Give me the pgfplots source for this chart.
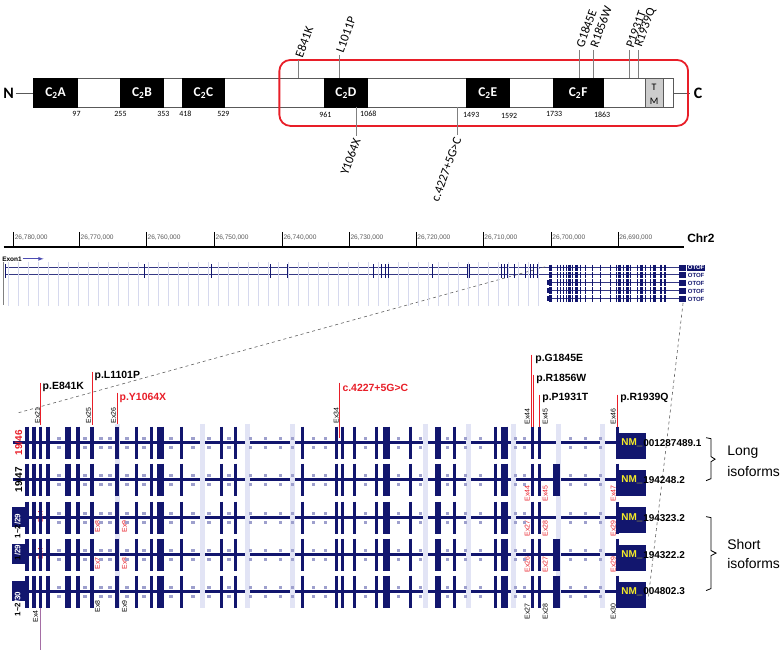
\documentclass[border=0pt]{standalone}
\usepackage{fontspec}
\setmainfont{Liberation Sans}
\newfontfamily\carl{Carlito}
\usepackage{pgfplots}
\usepackage{pgfplotstable}
\pgfplotsset{compat=1.18}
\definecolor{navy}{RGB}{18,22,110}
\definecolor{lav}{RGB}{226,228,245}
\definecolor{chev}{RGB}{158,160,205}
\definecolor{mred}{RGB}{232,30,40}
\definecolor{myel}{RGB}{245,235,40}
\definecolor{gline}{RGB}{214,217,238}
\definecolor{purp}{RGB}{165,110,165}
\newcommand\fs[1]{\fontsize{#1}{#1}\selectfont}
% exon tables (pixel positions)
\pgfplotstableread[row sep=\\]{x y\\26.5 0\\33.5 0\\40 0\\47.5 0\\77.5 0\\91.5 0\\116.5 0\\136 0\\151 0\\181 0\\221 0\\235 0\\302.5 0\\336 0\\342.5 0\\354.5 0\\376.5 0\\410 0\\454.5 0\\495 0\\532 0\\539.5 0\\617.5 0\\}\exN
\pgfplotstableread[row sep=\\]{x y\\67.5 0\\160 0\\386 0\\437.5 0\\504.5 0\\}\exW
\pgfplotstableread[row sep=\\]{x y\\556.5 0\\}\exX
\pgfplotstableread[row sep=\\]{x y\\549.5 0\\}\gStart
\pgfplotstableread[row sep=\\]{x y\\58 0\\84 0\\100 0\\109 0\\126 0\\143 0\\170 0\\192 0\\208 0\\228 0\\250 0\\265 0\\280 0\\292 0\\313 0\\325 0\\365 0\\398 0\\420 0\\447 0\\465 0\\480 0\\515 0\\524 0\\570 0\\585 0\\600 0\\}\chevs
\pgfplotstableread[row sep=\\]{x y\\117 0\\202 0\\247 0\\292 0\\425 0\\468 0\\513 0\\558 0\\602 0\\}\bands
% genome track
\pgfplotstableread[row sep=\\]{x y\\13 0\\79 0\\146 0\\214 0\\282 0\\349 0\\416 0\\483 0\\551 0\\618 0\\}\rulT
\pgfplotstableread[row sep=\\]{x y\\8 0\\18 0\\28 0\\38 0\\48 0\\58 0\\68 0\\78 0\\88 0\\98 0\\108 0\\118 0\\128 0\\138 0\\148 0\\158 0\\168 0\\178 0\\188 0\\198 0\\208 0\\218 0\\228 0\\238 0\\248 0\\258 0\\268 0\\278 0\\288 0\\298 0\\308 0\\318 0\\328 0\\338 0\\348 0\\358 0\\368 0\\378 0\\388 0\\398 0\\408 0\\418 0\\428 0\\438 0\\448 0\\458 0\\468 0\\478 0\\488 0\\498 0\\508 0\\518 0\\528 0\\538 0\\}\glines
\pgfplotstableread[row sep=\\]{x y\\5 0\\144 0\\211 0\\270 0\\287 0\\373 0\\381 0\\385 0\\388 0\\432 0\\467 0\\469 0\\501 0\\504 0\\507 0\\514 0\\525 0\\530 0\\533 0\\537 0\\}\gSparse
\pgfplotstableread[row sep=\\]{x y\\557 0\\560 0\\563 0\\566 0\\572 0\\580 0\\585 0\\592 0\\600 0\\610 0\\616 0\\623 0\\630 0\\637 0\\645 0\\650 0\\660 0\\665 0\\}\gDn
\pgfplotstableread[row sep=\\]{x y\\550.5 0\\569 0\\576 0\\619.5 0\\627 0\\641 0\\654 0\\661 0\\}\gDw
\pgfplotstableread[row sep=\\]{x y\\682.5 0\\}\gEnd
\pgfplotsset{vbar/.style 2 args={only marks, mark=|, mark size=#1, mark options={line width=#2}}}
\begin{document}
\begin{tikzpicture}
\begin{axis}[width=783bp,height=650bp,scale only axis,xmin=0,xmax=783,ymin=0,ymax=650,
  y dir=reverse,hide axis,clip=false]
\addplot[draw=none] coordinates {(0,0)(783,650)};
% ================= protein =================
\addplot[gray!70!black, line width=0.8bp] coordinates {(15,93)(33,93)};
\addplot[gray!70!black, line width=0.8bp] coordinates {(673,93)(690,93)};
\addplot[draw=gray!70!black, line width=0.8bp, fill=white] coordinates {(33,78)(673,78)(673,107)(33,107)} -- cycle;
\addplot[fill=black, draw=black] coordinates {(33,78)(77,78)(77,107)(33,107)} -- cycle;
\addplot[fill=black, draw=black] coordinates {(120,78)(163,78)(163,107)(120,107)} -- cycle;
\addplot[fill=black, draw=black] coordinates {(182,78)(224,78)(224,107)(182,107)} -- cycle;
\addplot[fill=black, draw=black] coordinates {(324,78)(367,78)(367,107)(324,107)} -- cycle;
\addplot[fill=black, draw=black] coordinates {(466,78)(509,78)(509,107)(466,107)} -- cycle;
\addplot[fill=black, draw=black] coordinates {(553,78)(603,78)(603,107)(553,107)} -- cycle;
\addplot[fill=gray!40, draw=gray!70!black, line width=0.6bp] coordinates {(645,78)(663,78)(663,107)(645,107)} -- cycle;
\addplot[mred, line width=1.8bp, rounded corners=11bp] coordinates {(480,60)(688,60)(688,126)(279,126)(279,60)} -- cycle;
% mutation ticks
\addplot[gray, line width=0.8bp] coordinates {(298,60)(298,78)};
\addplot[gray, line width=0.8bp] coordinates {(339,55)(339,78)};
\addplot[gray, line width=0.8bp] coordinates {(579,50)(579,78)};
\addplot[gray, line width=0.8bp] coordinates {(593,50)(593,78)};
\addplot[gray, line width=0.8bp] coordinates {(629,50)(629,78)};
\addplot[gray, line width=0.8bp] coordinates {(638,50)(638,78)};
\addplot[gray, line width=0.8bp] coordinates {(356,107)(356,136)};
\addplot[gray, line width=0.8bp] coordinates {(457,107)(457,135)};
\node[font=\carl\bfseries\fs{16}] at (8,93) {N};
\node[font=\carl\bfseries\fs{16}] at (698,93) {C};
\node[text=white,font=\carl\bfseries\fs{13.5}] at (55,93) {C\textsubscript{2}A};
\node[text=white,font=\carl\bfseries\fs{13.5}] at (141.5,93) {C\textsubscript{2}B};
\node[text=white,font=\carl\bfseries\fs{13.5}] at (203,93) {C\textsubscript{2}C};
\node[text=white,font=\carl\bfseries\fs{13.5}] at (345.5,93) {C\textsubscript{2}D};
\node[text=white,font=\carl\bfseries\fs{13.5}] at (487.5,93) {C\textsubscript{2}E};
\node[text=white,font=\carl\bfseries\fs{13.5}] at (578,93) {C\textsubscript{2}F};
\node[font=\carl\fs{10}] at (654,87) {T};
\node[font=\carl\fs{10}] at (654,101) {M};
\node[font=\carl\fs{8}] at (76,114) {97};
\node[font=\carl\fs{8}] at (120,114) {255};
\node[font=\carl\fs{8}] at (163,114) {353};
\node[font=\carl\fs{8}] at (185,114) {418};
\node[font=\carl\fs{8}] at (223,114) {529};
\node[font=\carl\fs{8}] at (325,115) {961};
\node[font=\carl\fs{8}] at (368,114) {1068};
\node[font=\carl\fs{8}] at (471,115) {1493};
\node[font=\carl\fs{8}] at (509,116) {1592};
\node[font=\carl\fs{8}] at (554,114) {1733};
\node[font=\carl\fs{8}] at (602,115) {1863};
\node[rotate=70,anchor=west,inner sep=1bp,font=\carl\fs{12.5}] at (298,58) {E841K};
\node[rotate=70,anchor=west,inner sep=1bp,font=\carl\fs{12.5}] at (339,53) {L1011P};
\node[rotate=70,anchor=west,inner sep=1bp,font=\carl\fs{12.5}] at (579,48) {G1845E};
\node[rotate=70,anchor=west,inner sep=1bp,font=\carl\fs{12.5}] at (593,48) {R1856W};
\node[rotate=70,anchor=west,inner sep=1bp,font=\carl\fs{12.5}] at (629,48) {P1931T};
\node[rotate=70,anchor=west,inner sep=1bp,font=\carl\fs{12.5}] at (638,48) {R1939Q};
\node[rotate=70,anchor=east,inner sep=1bp,font=\carl\fs{12.5}] at (357,138) {Y1064X};
\node[rotate=70,anchor=east,inner sep=1bp,font=\carl\fs{12.5}] at (458,137) {c.4227+5G>C};
% ================= genome track =================
\addplot[black, line width=2.4bp] coordinates {(3,247)(684,247)};
\addplot[black, vbar={7.5bp}{0.6bp}] table[x=x, y expr=239.5] {\rulT};
\node[anchor=west,inner sep=1bp,text=black!65,font=\fs{6.6}] at (13,238) {26,780,000};
\node[anchor=west,inner sep=1bp,text=black!65,font=\fs{6.6}] at (79,238) {26,770,000};
\node[anchor=west,inner sep=1bp,text=black!65,font=\fs{6.6}] at (146,238) {26,760,000};
\node[anchor=west,inner sep=1bp,text=black!65,font=\fs{6.6}] at (214,238) {26,750,000};
\node[anchor=west,inner sep=1bp,text=black!65,font=\fs{6.6}] at (282,238) {26,740,000};
\node[anchor=west,inner sep=1bp,text=black!65,font=\fs{6.6}] at (349,238) {26,730,000};
\node[anchor=west,inner sep=1bp,text=black!65,font=\fs{6.6}] at (416,238) {26,720,000};
\node[anchor=west,inner sep=1bp,text=black!65,font=\fs{6.6}] at (483,238) {26,710,000};
\node[anchor=west,inner sep=1bp,text=black!65,font=\fs{6.6}] at (551,238) {26,700,000};
\node[anchor=west,inner sep=1bp,text=black!65,font=\fs{6.6}] at (618,238) {26,690,000};
\node[anchor=west,inner sep=1bp,font=\bfseries\fs{12}] at (686,238) {Chr2};
\node[anchor=west,inner sep=0.5bp,font=\bfseries\fs{6.5}] at (1,259) {Exon1};
\addplot[blue!40!gray, line width=0.8bp, -latex] coordinates {(22,259)(43,259)};
\addplot[gline, vbar={22bp}{0.6bp}] table[x=x, y expr=284] {\glines};
\addplot[gray, line width=1.5bp] coordinates {(3,262)(3,305)};
\addplot[navy!85, line width=0.9bp] coordinates {(5,268)(680,268)};
\addplot[navy!85, line width=0.9bp] coordinates {(5,275)(680,275)};
\addplot[navy, vbar={3.5bp}{1.2bp}] table[x=x, y expr=268] {\gSparse};
\addplot[navy, vbar={3.5bp}{1.2bp}] table[x=x, y expr=275] {\gSparse};
\pgfplotsinvokeforeach{283,291,299}{
  \addplot[navy!85, line width=0.9bp] coordinates {(547,#1)(680,#1)};
  \addplot[navy, vbar={2.5bp}{5bp}] table[x=x, y expr=#1] {\gStart};
}
\pgfplotsinvokeforeach{268,275,283,291,299}{
  \addplot[navy, vbar={3.3bp}{1.2bp}] table[x=x, y expr=#1] {\gDn};
  \addplot[navy, vbar={3.3bp}{2.8bp}] table[x=x, y expr=#1] {\gDw};
  \addplot[navy, vbar={2.8bp}{7bp}] table[x=x, y expr=#1] {\gEnd};
}
\node[anchor=west,fill=navy,text=white,inner sep=0.6bp,font=\bfseries\fs{6}] at (687,268) {OTOF};
\node[anchor=west,text=navy,inner sep=0.6bp,font=\bfseries\fs{6}] at (687,275.5) {OTOF};
\node[anchor=west,text=navy,inner sep=0.6bp,font=\bfseries\fs{6}] at (687,283.5) {OTOF};
\node[anchor=west,text=navy,inner sep=0.6bp,font=\bfseries\fs{6}] at (687,291.5) {OTOF};
\node[anchor=west,text=navy,inner sep=0.6bp,font=\bfseries\fs{6}] at (687,299.5) {OTOF};
\addplot[gray!75!black, dashed, line width=0.6bp] coordinates {(18,413)(545,267)};
\addplot[gray!75!black, dashed, line width=0.6bp] coordinates {(683,303)(648,600)};
% ================= exon detail =================
\addplot[lav, vbar={92bp}{5bp}] table[x=x, y expr=516] {\bands};
\pgfplotsinvokeforeach{443,480,518,555,592}{
  \addplot[navy, line width=3.5bp] coordinates {(12,#1)(619,#1)};
  \addplot[chev, only marks, mark=square*, mark size=1.3bp] table[x=x, y expr=#1-4.5] {\chevs};
  \addplot[chev, only marks, mark=square*, mark size=1.3bp] table[x=x, y expr=#1+4.5] {\chevs};
  \addplot[navy, vbar={16bp}{3.2bp}] table[x=x, y expr=#1] {\exN};
  \addplot[navy, vbar={16bp}{6.5bp}] table[x=x, y expr=#1] {\exW};
}
\pgfplotsinvokeforeach{480,555,592}{
  \addplot[navy, vbar={16bp}{6.5bp}] table[x=x, y expr=#1] {\exX};
}
% NM boxes
\addplot[fill=navy, draw=navy] coordinates {(619,434)(645,434)(645,459)(619,459)} -- cycle;
\addplot[fill=navy, draw=navy] coordinates {(619,471)(645,471)(645,496)(619,496)} -- cycle;
\addplot[fill=navy, draw=navy] coordinates {(619,508)(645,508)(645,533)(619,533)} -- cycle;
\addplot[fill=navy, draw=navy] coordinates {(619,546)(645,546)(645,571)(619,571)} -- cycle;
\addplot[fill=navy, draw=navy] coordinates {(619,583)(645,583)(645,608)(619,608)} -- cycle;
% left boxes for short isoforms
\addplot[fill=navy, draw=navy] coordinates {(12,508)(27,508)(27,527)(12,527)} -- cycle;
\addplot[fill=navy, draw=navy] coordinates {(12,545)(27,545)(27,564)(12,564)} -- cycle;
\addplot[fill=navy, draw=navy] coordinates {(12,582)(27,582)(27,601)(12,601)} -- cycle;
\node[anchor=west,inner sep=0pt,text=myel,font=\bfseries\fs{10}] at (621,443) {NM\_};
\node[anchor=west,inner sep=0pt,font=\bfseries\fs{10}] at (643,443) {001287489.1};
\node[anchor=west,inner sep=0pt,text=myel,font=\bfseries\fs{10}] at (621,480) {NM\_};
\node[anchor=west,inner sep=0pt,font=\bfseries\fs{10}] at (643,480) {194248.2};
\node[anchor=west,inner sep=0pt,text=myel,font=\bfseries\fs{10}] at (621,518) {NM\_};
\node[anchor=west,inner sep=0pt,font=\bfseries\fs{10}] at (643,518) {194323.2};
\node[anchor=west,inner sep=0pt,text=myel,font=\bfseries\fs{10}] at (621,555) {NM\_};
\node[anchor=west,inner sep=0pt,font=\bfseries\fs{10}] at (643,555) {194322.2};
\node[anchor=west,inner sep=0pt,text=myel,font=\bfseries\fs{10}] at (621,592) {NM\_};
\node[anchor=west,inner sep=0pt,font=\bfseries\fs{10}] at (643,592) {004802.3};
% row labels
\node[rotate=90,text=mred,inner sep=0pt,font=\bfseries\fs{10}] at (18,443) {19/46};
\node[rotate=90,inner sep=0pt,font=\bfseries\fs{10}] at (18,480) {19/47};
\node[rotate=90,anchor=west,inner sep=0pt,font=\bfseries\fs{8}] at (17,539) {1\textasciitilde2\textcolor{white}{/29}};
\node[rotate=90,anchor=west,inner sep=0pt,font=\bfseries\fs{8}] at (17,561) {1\textcolor{white}{/29}};
\node[rotate=90,anchor=west,inner sep=0pt,font=\bfseries\fs{8}] at (17,617) {1\textasciitilde2\textcolor{white}{/30}};
% mutation lines
\addplot[mred, line width=1bp] coordinates {(40,383)(40,425)};
\addplot[mred, line width=1bp] coordinates {(92,372)(92,425)};
\addplot[mred, line width=1bp] coordinates {(117,393)(117,425)};
\addplot[mred, line width=1bp] coordinates {(339,383)(339,438)};
\addplot[mred, line width=1bp] coordinates {(531.5,355)(531.5,431)};
\addplot[mred, line width=1bp] coordinates {(533.5,375)(533.5,431)};
\addplot[mred, line width=1bp] coordinates {(539,395)(539,431)};
\addplot[mred, line width=1bp] coordinates {(617,395)(617,431)};
\addplot[purp, line width=1bp] coordinates {(40,607)(40,650)};
\node[anchor=west,inner sep=0pt,font=\bfseries\fs{10.5}] at (42,387) {p.E841K};
\node[anchor=west,inner sep=0pt,font=\bfseries\fs{10.5}] at (94,376) {p.L1101P};
\node[anchor=west,inner sep=0pt,text=mred,font=\bfseries\fs{10.5}] at (119,398) {p.Y1064X};
\node[anchor=west,inner sep=0pt,text=mred,font=\bfseries\fs{10.5}] at (342,388) {c.4227+5G>C};
\node[anchor=west,inner sep=0pt,font=\bfseries\fs{10.5}] at (535,359) {p.G1845E};
\node[anchor=west,inner sep=0pt,font=\bfseries\fs{10.5}] at (536,379) {p.R1856W};
\node[anchor=west,inner sep=0pt,font=\bfseries\fs{10.5}] at (542,398) {p.P1931T};
\node[anchor=west,inner sep=0pt,font=\bfseries\fs{10.5}] at (620,398) {p.R1939Q};
% exon number labels
\node[rotate=90,anchor=west,inner sep=0pt,font=\fs{7}] at (37,424) {Ex21};
\node[rotate=90,anchor=west,inner sep=0pt,font=\fs{7}] at (88,424) {Ex25};
\node[rotate=90,anchor=west,inner sep=0pt,font=\fs{7}] at (113,424) {Ex26};
\node[rotate=90,anchor=west,inner sep=0pt,font=\fs{7}] at (336,424) {Ex34};
\node[rotate=90,anchor=west,inner sep=0pt,font=\fs{7}] at (527,425) {Ex44};
\node[rotate=90,anchor=west,inner sep=0pt,font=\fs{7}] at (545,425) {Ex45};
\node[rotate=90,anchor=west,inner sep=0pt,font=\fs{7}] at (613,425) {Ex46};
\node[rotate=90,anchor=west,inner sep=0pt,text=mred,font=\fs{7}] at (527,502) {Ex44};
\node[rotate=90,anchor=west,inner sep=0pt,text=mred,font=\fs{7}] at (545,502) {Ex45};
\node[rotate=90,anchor=west,inner sep=0pt,text=mred,font=\fs{7}] at (613,502) {Ex47};
\node[rotate=90,anchor=west,inner sep=0pt,text=mred,font=\fs{7}] at (527,537) {Ex27};
\node[rotate=90,anchor=west,inner sep=0pt,text=mred,font=\fs{7}] at (545,537) {Ex28};
\node[rotate=90,anchor=west,inner sep=0pt,text=mred,font=\fs{7}] at (613,537) {Ex29};
\node[rotate=90,anchor=west,inner sep=0pt,text=mred,font=\fs{7}] at (527,573) {Ex26};
\node[rotate=90,anchor=west,inner sep=0pt,text=mred,font=\fs{7}] at (545,573) {Ex27};
\node[rotate=90,anchor=west,inner sep=0pt,text=mred,font=\fs{7}] at (613,573) {Ex29};
\node[rotate=90,anchor=west,inner sep=0pt,font=\fs{7}] at (527,620) {Ex27};
\node[rotate=90,anchor=west,inner sep=0pt,font=\fs{7}] at (545,620) {Ex28};
\node[rotate=90,anchor=west,inner sep=0pt,font=\fs{7}] at (613,620) {Ex30};
\node[rotate=90,anchor=west,inner sep=0pt,text=mred,font=\fs{7}] at (40,523) {Ex4};
\node[rotate=90,anchor=west,inner sep=0pt,text=mred,font=\fs{7}] at (97,533) {Ex8};
\node[rotate=90,anchor=west,inner sep=0pt,text=mred,font=\fs{7}] at (124,533) {Ex9};
\node[rotate=90,anchor=west,inner sep=0pt,text=mred,font=\fs{7}] at (40,560) {Ex4};
\node[rotate=90,anchor=west,inner sep=0pt,text=mred,font=\fs{7}] at (97,570) {Ex7};
\node[rotate=90,anchor=west,inner sep=0pt,text=mred,font=\fs{7}] at (124,570) {Ex8};
\node[rotate=90,anchor=west,inner sep=0pt,font=\fs{7}] at (35,623) {Ex4};
\node[rotate=90,anchor=west,inner sep=0pt,font=\fs{7}] at (97,613) {Ex8};
\node[rotate=90,anchor=west,inner sep=0pt,font=\fs{7}] at (124,613) {Ex9};
% braces
\addplot[black, line width=0.8bp] coordinates {(706,438)(711,439)(711,457)(715,459.5)(711,462)(711,479)(706,481)};
\addplot[black, line width=0.8bp] coordinates {(706,517)(711,518)(711,551)(716,553.5)(711,556)(711,589)(706,591)};
\node[anchor=west,inner sep=0pt,font=\fs{14}] at (727,452) {Long};
\node[anchor=west,inner sep=0pt,font=\fs{14}] at (727,472) {isoforms};
\node[anchor=west,inner sep=0pt,font=\fs{14}] at (727,545) {Short};
\node[anchor=west,inner sep=0pt,font=\fs{14}] at (727,564) {isoforms};
\end{axis}
\end{tikzpicture}
\end{document}
